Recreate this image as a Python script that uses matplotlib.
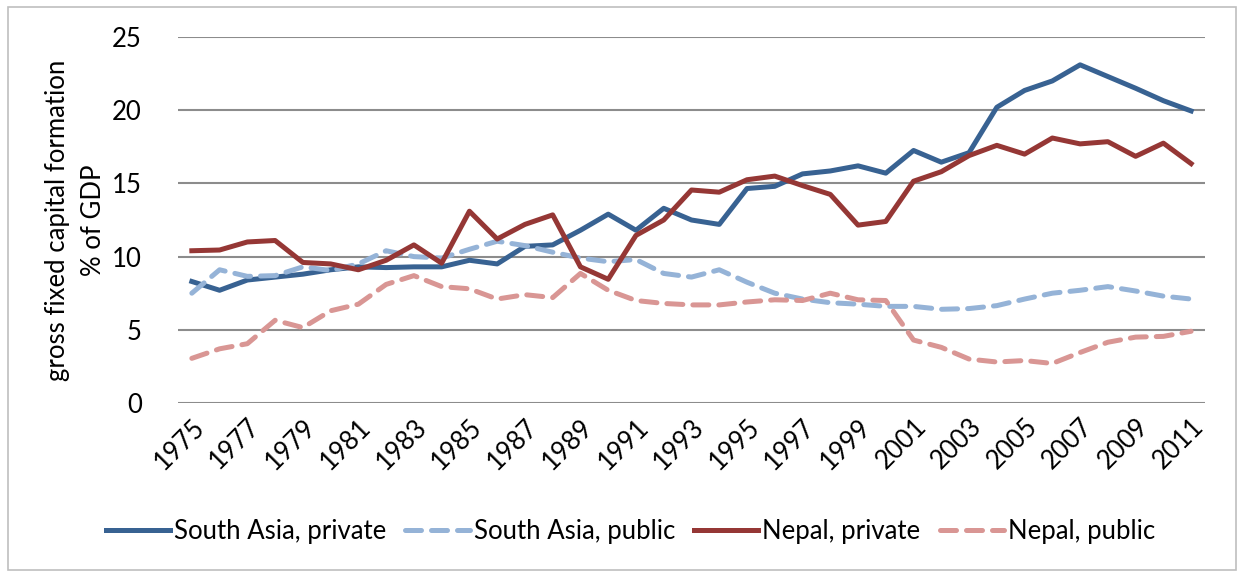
import matplotlib.pyplot as plt
from matplotlib.patches import Rectangle

# years on the category axis
years = list(range(1975, 2012))

# gross fixed capital formation, % of GDP
sa_private = [8.3, 7.7, 8.4, 8.6, 8.8, 9.1, 9.3, 9.25, 9.3, 9.3, 9.75, 9.5,
              10.7, 10.8, 11.8, 12.9, 11.8, 13.3, 12.5, 12.2, 14.65, 14.8,
              15.65, 15.85, 16.2, 15.7, 17.25, 16.45, 17.1, 20.2, 21.35,
              22.0, 23.1, 22.3, 21.5, 20.65, 19.95]
sa_public = [7.5, 9.1, 8.65, 8.7, 9.3, 9.05, 9.5, 10.4, 10.0, 9.9, 10.5, 11.05,
             10.75, 10.3, 9.9, 9.65, 9.8, 8.85, 8.6, 9.1, 8.25, 7.5, 7.1,
             6.85, 6.75, 6.6, 6.6, 6.4, 6.45, 6.65, 7.1, 7.5, 7.7, 7.95,
             7.65, 7.3, 7.1]
np_private = [10.4, 10.45, 11.0, 11.1, 9.6, 9.5, 9.1, 9.75, 10.8, 9.55, 13.1,
              11.2, 12.2, 12.85, 9.3, 8.45, 11.45, 12.5, 14.55, 14.4, 15.25,
              15.5, 14.85, 14.25, 12.15, 12.4, 15.15, 15.8, 16.9, 17.6, 17.0,
              18.1, 17.7, 17.85, 16.85, 17.75, 16.35]
np_public = [3.05, 3.7, 4.05, 5.65, 5.15, 6.3, 6.75, 8.1, 8.7, 7.95, 7.8, 7.1,
             7.4, 7.2, 8.85, 7.7, 7.0, 6.8, 6.7, 6.7, 6.9, 7.05, 7.0, 7.5,
             7.05, 7.0, 4.3, 3.8, 3.0, 2.8, 2.9, 2.7, 3.45, 4.15, 4.5,
             4.55, 4.9]

labels = ["South Asia, private", "South Asia, public", "Nepal, private", "Nepal, public"]
colors = ["#386292", "#95B3D7", "#953735", "#D99694"]

plt.rcParams['font.family'] = ['Lato', 'DejaVu Sans']

fig = plt.figure(figsize=(12.41, 5.73), dpi=100)
fig.patches.append(Rectangle((8 / 1241, 3 / 573), 1228 / 1241, 563 / 573,
                             transform=fig.transFigure, fill=False,
                             edgecolor="#BFBFBF", linewidth=1.2))
ax = fig.add_axes([0.1434, 0.2967, 0.8276, 0.6387])

series = [sa_private, sa_public, np_private, np_public]
for vals, lab, col in zip(series, labels, colors):
    if "public" in lab:
        ax.plot(years, vals, color=col, lw=3.6, label=lab,
                dashes=(3.2, 2.0), dash_capstyle="round", solid_joinstyle="round")
    else:
        ax.plot(years, vals, color=col, lw=3.6, label=lab, solid_joinstyle="round")

ax.set_xlim(1974.5, 2011.5)
ax.set_ylim(0, 25)
ax.set_yticks([0, 5, 10, 15, 20, 25])
ax.set_xticks(years[::2])
ax.set_xticklabels([str(y) for y in years[::2]], rotation=45, ha="right",
                   rotation_mode="anchor")
ax.tick_params(axis="both", length=0, labelsize=18.5)
ax.tick_params(axis="y", pad=26)
ax.tick_params(axis="x", pad=8)
ax.grid(axis="y", color="#8C8C8C", lw=1.5)
ax.set_axisbelow(True)
for s in ax.spines.values():
    s.set_visible(False)

ax.set_ylabel("gross fixed capital formation\n% of GDP", fontsize=18.5, labelpad=4,
              linespacing=1.55)

fig.legend(loc="center", bbox_to_anchor=(0.508, 0.072), ncol=4, frameon=False,
           fontsize=18.5, handlelength=2.5, handletextpad=0.15, columnspacing=0.75)

fig.savefig("out.png", dpi=100)
